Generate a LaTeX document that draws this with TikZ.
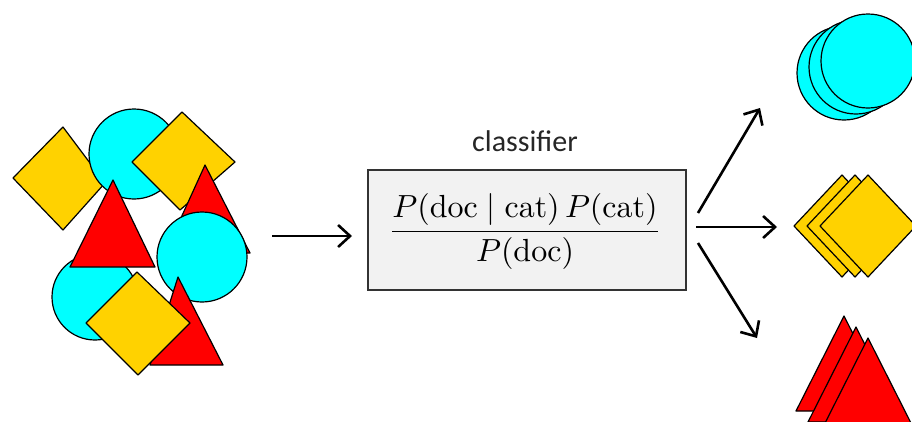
\documentclass[tikz,border=0pt]{standalone}
\usepackage{fontspec}
\usepackage{graphicx}
\newfontfamily\carlito{Carlito}
\usetikzlibrary{arrows.meta}
\definecolor{cyanF}{HTML}{00FFFF}
\definecolor{goldF}{HTML}{FFD200}
\definecolor{redF}{HTML}{FF0000}
\definecolor{boxF}{HTML}{F2F2F2}
\tikzset{
  shp/.style={draw=black, line width=1.2pt, line join=round},
  cyanshape/.style={shp, fill=cyanF},
  goldshape/.style={shp, fill=goldF},
  redshape/.style={shp, fill=redF},
  flow/.style={line width=2.6pt, -{Straight Barb[length=12pt,width=22pt,line width=2.6pt]}},
}
\begin{document}
\begin{tikzpicture}[x=1pt,y=-1pt]
\useasboundingbox (0,0) rectangle (912,421);
\clip (0,0) rectangle (912,421);
% left cluster
\draw[goldshape] (63,127) -- (13,178) -- (63,230) -- (105,183) -- cycle;
\draw[cyanshape] (134,154) circle (45);
\draw[goldshape] (182,112) -- (132,162) -- (180,210) -- (235,162) -- cycle;
\draw[redshape] (205,165) -- (165,253) -- (250,253) -- cycle;
\draw[cyanshape] (95,297) circle (43);
\draw[redshape] (113,180) -- (70,267) -- (155,267) -- cycle;
\draw[cyanshape] (202,257) circle (45);
\draw[redshape] (178,277) -- (150,365) -- (223,365) -- cycle;
\draw[goldshape] (137,272) -- (86,323) -- (138,375) -- (190,323) -- cycle;
% input arrow
\coordinate (inL) at (272,236);
\coordinate (inR) at (352,236);
% classifier box
\node[draw=black!80, line width=1.2pt, fill=boxF, minimum width=318pt, minimum height=120pt, inner sep=0pt] (clf) at (527,230) {};
\node[inner sep=0pt] (frac) at (525,231.5) {\scalebox{3.2}{$\displaystyle\frac{P(\mathrm{doc}\mid\mathrm{cat})\,P(\mathrm{cat})}{P(\mathrm{doc})}$}};
\node[font=\carlito\fontsize{30}{36}\selectfont, text=black!85] (lbl) at (525,141) {classifier};
\draw[flow] (inL) -- (inR);
% outputs
\coordinate (o1) at (760,108);
\coordinate (o2) at (777,227);
\coordinate (o3) at (757,338);
\coordinate (s1) at (698,213);
\coordinate (s2) at (696,227);
\coordinate (s3) at (698,243);
\draw[flow] (s1) -- (o1);
\draw[flow] (s2) -- (o2);
\draw[flow] (s3) -- (o3);
% circles stack
\draw[cyanshape] (844,73) circle (47);
\draw[cyanshape] (856,67) circle (47);
\draw[cyanshape] (868,61) circle (47);
% diamonds stack
\foreach \dx in {842,855,868}{
  \draw[goldshape] (\dx,175) -- (\dx-48,226) -- (\dx,277) -- (\dx+48,226) -- cycle;
}
% triangles stack
\draw[redshape] (844,316) -- (796,411) -- (892,411) -- cycle;
\draw[redshape] (856,327) -- (808,422) -- (904,422) -- cycle;
\draw[redshape] (868,338) -- (820,433) -- (916,433) -- cycle;
\end{tikzpicture}
\end{document}
